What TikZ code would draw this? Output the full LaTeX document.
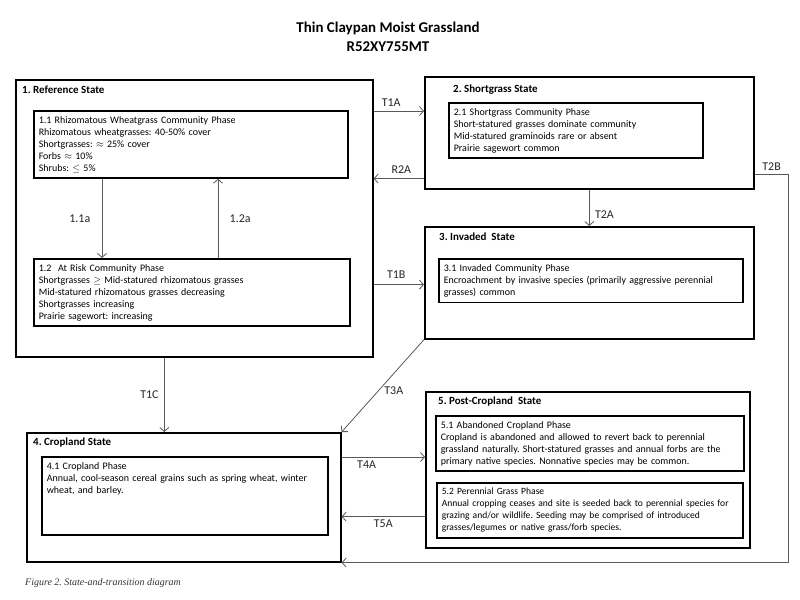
\documentclass[tikz,border=0pt]{standalone}
\usepackage{fontspec}
\setsansfont{Carlito}
\newfontfamily\capfont{Liberation Serif}
\usetikzlibrary{arrows.meta,calc}
\frenchspacing

\begin{document}
\begin{tikzpicture}[
        %Environment config
        x=1bp, y=-1bp,
        font=\sffamily\fontsize{10}{12}\selectfont\frenchspacing,
        %Environment styles
        StateCfg/.style={
            draw,
            line width=1.6bp,
            inner sep=0pt,
            anchor=north west
        },
        PhaseCfg/.style={
            draw,
            line width=1.6bp,
            inner xsep=5bp,
            inner ysep=5.5bp,
            anchor=north west,
            align=left
        },
        NameCfg/.style={
            font=\sffamily\bfseries\fontsize{11}{13}\selectfont,
            inner sep=0pt,
            anchor=west
        },
        TitleCfg/.style={
            font=\sffamily\bfseries\fontsize{15}{18}\selectfont,
            inner sep=0pt
        },
        TransCfg/.style={
            draw=black!65,
            line width=0.8bp,
            -{Straight Barb[length=4bp,width=9bp]}
        },
        LabelCfg/.style={
            font=\sffamily\fontsize{12}{14}\selectfont,
            text=black!85
        }
    ]
    \useasboundingbox (0,0) rectangle (800,600);

    \path
        (388,28) node[TitleCfg](Title){Thin Claypan Moist Grassland}
        (388,47) node[TitleCfg](Code){R52XY755MT}
        (25,583) node[anchor=west, inner sep=0pt, text=black!80,
            font=\capfont\itshape\fontsize{10}{12}\selectfont](Caption){Figure 2. State-and-transition diagram};

    %States
    \path
        (15,79) node[StateCfg, minimum width=357bp, minimum height=277bp](S1){}
        ([shift={(7,11)}]S1.north west) node[NameCfg](N1){1. Reference State}
        (424,76) node[StateCfg, minimum width=329bp, minimum height=112bp](S2){}
        ([shift={(29,14)}]S2.north west) node[NameCfg](N2){2. Shortgrass State}
        (424,226) node[StateCfg, minimum width=329bp, minimum height=112bp](S3){}
        ([shift={(15,11)}]S3.north west) node[NameCfg](N3){3. Invaded\ \ State}
        (26,432) node[StateCfg, minimum width=314bp, minimum height=129bp](S4){}
        ([shift={(7,11)}]S4.north west) node[NameCfg](N4){4. Cropland State}
        (425,391) node[StateCfg, minimum width=324bp, minimum height=156bp](S5){}
        ([shift={(13,11)}]S5.north west) node[NameCfg](N5){5. Post-Cropland\ \ State};

    %Phases
    \path
        (33,110) node[PhaseCfg, text width=304bp](P11){1.1 Rhizomatous Wheatgrass Community Phase\\
            Rhizomatous wheatgrasses: 40-50\% cover\\
            Shortgrasses: $\approx$ 25\% cover\\
            Forbs $\approx$ 10\%\\
            Shrubs: $\leq$ 5\%}
        (33,258) node[PhaseCfg, text width=306bp](P12){1.2\ \ At Risk Community Phase\\
            Shortgrasses $\geq$ Mid-statured rhizomatous grasses\\
            Mid-statured rhizomatous grasses decreasing\\
            Shortgrasses increasing\\
            Prairie sagewort: increasing}
        (448,102) node[PhaseCfg, text width=244bp](P21){2.1 Shortgrass Community Phase\\
            Short-statured grasses dominate community\\
            Mid-statured graminoids rare or absent\\
            Prairie sagewort common}
        (438,258) node[PhaseCfg, text width=294bp](P31){3.1 Invaded Community Phase\\
            Encroachment by invasive species (primarily aggressive perennial\\
            grasses) common}
        (41,456) node[PhaseCfg, text width=276bp, text depth=60bp](P41){4.1 Cropland Phase\\
            Annual, cool-season cereal grains such as spring wheat, winter\\
            wheat, and barley.}
        (435,415) node[PhaseCfg, text width=298bp](P51){5.1 Abandoned Cropland Phase\\
            Cropland is abandoned and allowed to revert back to perennial\\
            grassland naturally. Short-statured grasses and annual forbs are the\\
            primary native species. Nonnative species may be common.}
        (436,482) node[PhaseCfg, text width=296bp,
            font=\sffamily\fontsize{9.6}{12}\selectfont](P52){5.2 Perennial Grass Phase\\
            Annual cropping ceases and site is seeded back to perennial species for\\
            grazing and/or wildlife. Seeding may be comprised of introduced\\
            grasses/legumes or native grass/forb species.};

    %Pathways inside state 1
    \draw[TransCfg]
        ([xshift=69bp]P11.south west) coordinate (C11s)
            -- (C11s |- P12.north) node[midway, left=8bp, LabelCfg]{1.1a};
    \draw[TransCfg]
        ([xshift=185bp]P12.north west) coordinate (C12s)
            -- (C12s |- P11.south) node[midway, right=8bp, LabelCfg]{1.2a};

    %Transitions
    \draw[TransCfg]
        ([yshift=-32bp]S1.north east) coordinate (T1As)
            -- (T1As -| S2.west) node[pos=0.35, above=1bp, LabelCfg]{T1A};
    \draw[TransCfg]
        ([yshift=11bp]S2.south west) coordinate (R2As)
            -- (R2As -| S1.east) node[pos=0.45, above=1bp, LabelCfg]{R2A};
    \draw[TransCfg]
        ([yshift=73bp]S1.south east) coordinate (T1Bs)
            -- (T1Bs -| S3.west) node[pos=0.45, above=2bp, LabelCfg]{T1B};
    \draw[TransCfg]
        (S2.south) -- (S3.north) node[pos=0.7, right=2bp, LabelCfg]{T2A};
    \draw[TransCfg]
        ([yshift=15bp]S2.south east) coordinate (T2Bs)
            -- ++(34,0) node[midway, above=0bp, LabelCfg]{T2B}
            |- (S4.south east);
    \draw[TransCfg]
        ([xshift=-30bp]S1.south) coordinate (T1Cs)
            -- (T1Cs |- S4.north) node[midway, left=2bp, LabelCfg]{T1C};
    \draw[TransCfg]
        (S3.south west) -- (S4.north east) node[pos=0.55, right=2bp, LabelCfg]{T3A};
    \draw[TransCfg]
        ([yshift=-25bp]S4.north east) coordinate (T4As)
            -- (T4As -| S5.west) node[pos=0.3, below=0bp, LabelCfg]{T4A};
    \draw[TransCfg]
        ([yshift=32bp]S5.south west) coordinate (T5As)
            -- (T5As -| S4.east) node[pos=0.5, below=0bp, LabelCfg]{T5A};
\end{tikzpicture}
\end{document}
